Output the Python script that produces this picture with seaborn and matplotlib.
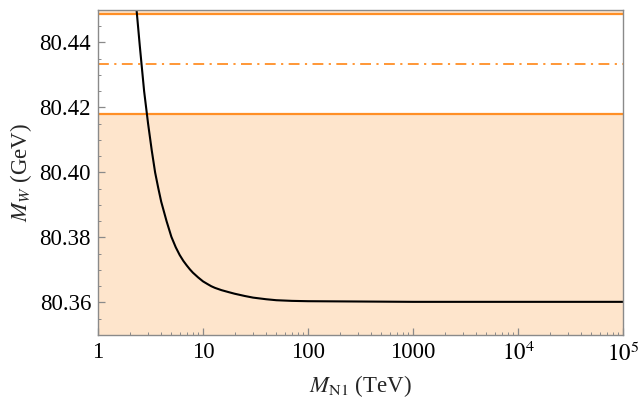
import pandas as pd
import matplotlib
matplotlib.use("Agg")
import matplotlib.pyplot as plt
import matplotlib.ticker as mticker
import seaborn as sns

# W mass prediction vs heavy neutrino mass
m_n1 = [2.3, 2.5, 2.75, 3.0, 3.25, 3.5, 3.75, 4.0, 4.5, 5.0, 5.5, 6.0, 6.5, 7.0,
        7.5, 8.0, 9.0, 10.0, 11.0, 12.0, 13.0, 15.0, 17.5, 20.0, 25.0, 30.0,
        40.0, 50.0, 70.0, 100.0, 1000.0, 1e4, 1e5]
m_w = [80.452, 80.439, 80.425, 80.415, 80.4068, 80.4000, 80.3952, 80.3910,
       80.3850, 80.3802, 80.3770, 80.3746, 80.3728, 80.3714, 80.3702, 80.3692,
       80.3677, 80.3665, 80.3657, 80.3650, 80.3645, 80.3638, 80.3632, 80.3627,
       80.3620, 80.3615, 80.3610, 80.3607, 80.3605, 80.3604, 80.3602, 80.3602,
       80.3602]

# measured band (central value and edges)
mw_central = 80.4335
mw_low = 80.4181
mw_high = 80.4489

x_ticks = [1, 10, 100, 1000, 1e4, 1e5]
x_tick_labels = ["1", "10", "100", "1000", r"$10^4$", r"$10^5$"]
y_ticks = [80.36, 80.38, 80.40, 80.42, 80.44]

sns.set_style("ticks")
plt.rcParams["font.family"] = ["Liberation Serif", "DejaVu Serif"]
plt.rcParams["mathtext.fontset"] = "stix"

orange = "#ff8f26"
shade = "#fee5cc"
frame = "#8a8a8a"

fig = plt.figure(figsize=(6.38, 3.98), dpi=100)
ax = fig.add_axes([0.1536, 0.1583, 0.8229, 0.8166])

ymin, ymax = 80.35, 80.45
ax.axhspan(ymin, mw_low, color=shade, lw=0, zorder=0)
ax.axhspan(mw_high, ymax, color=shade, lw=0, zorder=0)
ax.axhline(mw_low, color=orange, lw=1.6, zorder=1)
ax.axhline(mw_high, color=orange, lw=1.6, zorder=1)
ax.axhline(mw_central, color=orange, lw=1.3, dashes=(6, 3, 1.2, 3), zorder=1)

df = pd.DataFrame({"m_n1": m_n1, "m_w": m_w})
sns.lineplot(data=df, x="m_n1", y="m_w", color="black", lw=1.5, ax=ax, zorder=2)

ax.set_xscale("log")
ax.set_xlim(1, 1e5)
ax.set_ylim(ymin, ymax)
ax.set_xticks(x_ticks)
ax.set_xticklabels(x_tick_labels)
ax.xaxis.set_minor_locator(mticker.LogLocator(base=10, subs=range(2, 10), numticks=20))
ax.xaxis.set_minor_formatter(mticker.NullFormatter())
ax.set_yticks(y_ticks)
ax.set_yticklabels([f"{v:.2f}" for v in y_ticks])
ax.yaxis.set_minor_locator(mticker.MultipleLocator(0.005))

ax.tick_params(which="both", direction="in", colors=frame, labelcolor="black",
               labelsize=16.5, top=False, right=False)
ax.tick_params(which="major", length=5, width=0.9, pad=5)
ax.tick_params(which="minor", length=2.5, width=0.7)
for s in ax.spines.values():
    s.set_color(frame)
    s.set_linewidth(1.0)
    s.set_visible(True)

ax.set_xlabel(r"$M_{\rm N1}$ (TeV)", fontsize=16.5, labelpad=5)
ax.set_ylabel(r"$M_W$ (GeV)", fontsize=16.5, labelpad=4)

fig.savefig("out.png", dpi=100)
